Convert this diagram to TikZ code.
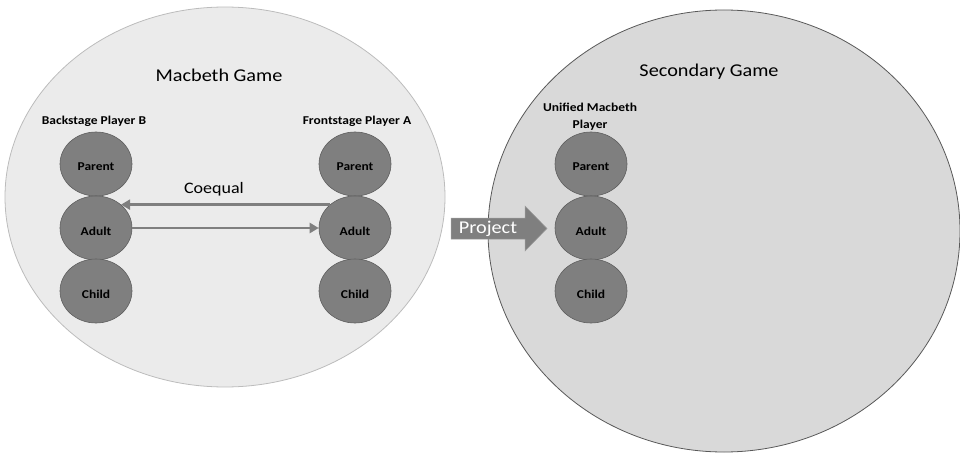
\documentclass[tikz,border=0pt]{standalone}
\usepackage{fontspec}
\setmainfont{Carlito}
\usetikzlibrary{shapes.geometric,arrows.meta}
\definecolor{gameA}{HTML}{EBEBEB}
\definecolor{gameB}{HTML}{D9D9D9}
\definecolor{egofill}{HTML}{7F7F7F}
\definecolor{egoline}{HTML}{5E5E5E}
% slightly widened lettering
\newcommand\widetext[1]{\scalebox{1.125}[1]{#1}}
\begin{document}
\begin{tikzpicture}[x=1pt,y=-1pt,
  ego/.style={ellipse, fill=egofill, draw=egoline, line width=0.6pt,
    minimum width=72pt, minimum height=64pt, inner sep=0pt,
    text height=14pt, text depth=0pt,
    font=\bfseries\fontsize{12}{14}\selectfont},
  title/.style={font=\fontsize{18}{22}\selectfont},
  plabel/.style={font=\bfseries\fontsize{12}{17}\selectfont, align=center},
  link/.style={draw=egofill, line width=2.6pt, -{Triangle[length=9pt,width=10pt]}}]
\useasboundingbox (0,0) rectangle (960,457);
% the two games
\draw[fill=gameA, draw=gameA!80!black, line width=0.8pt] (225,197) ellipse [x radius=220, y radius=190];
\draw[fill=gameB, draw=black!65, line width=0.8pt] (724,231) ellipse [x radius=236, y radius=221];
\node[title] (tA) at (219,75) {\widetext{Macbeth Game}};
\node[title] (tB) at (709,72) {\widetext{Secondary Game}};
% player labels
\node[plabel] (lb) at (94,121) {\widetext{Backstage Player B}};
\node[plabel] (la) at (357,121) {\widetext{Frontstage Player A}};
\node[plabel] (lu) at (590,117) {\widetext{Unified Macbeth}\\\widetext{Player}};
% ego states of each player
\foreach \col/\x in {b/96, a/355, u/591} {
  \node[ego] (\col p) at (\x,164) {\widetext{Parent}};
  \node[ego] (\col d) at (\x,228) {\widetext{Adult}};
  \node[ego] (\col c) at (\x,291) {\widetext{Child}};
}
% coequal transactions between the adults
\draw[link] (ad.137) -- (bd.43);
\draw[link] (bd.east) -- (ad.west);
\node[font=\fontsize{16}{19}\selectfont] (coeq) at (214,189) {\widetext{Coequal}};
% projection arrow
\draw[fill=egofill, draw=egoline!60, line width=0.5pt]
  (451,218) -- (525,218) -- (525,206) -- (547,228.5) -- (525,251) -- (525,239) -- (451,239) -- cycle;
\node[text=white, font=\fontsize{18}{21}\selectfont] (proj) at (488,228.5) {\widetext{Project}};
\end{tikzpicture}
\end{document}
